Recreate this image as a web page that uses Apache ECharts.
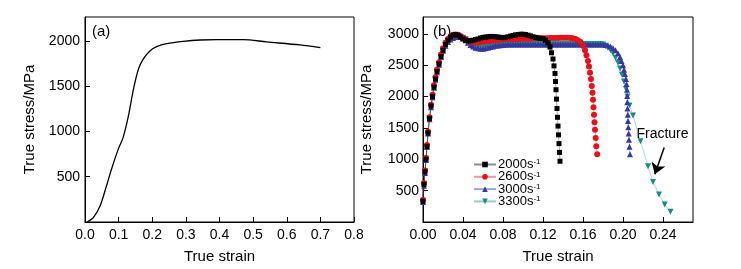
<!DOCTYPE html>
<html>
<head>
<meta charset="utf-8">
<script src="https://cdn.jsdelivr.net/npm/echarts@6/dist/echarts.min.js"></script>
<style>
  html, body { margin: 0; padding: 0; background: #fff; }
  #chart { width: 741px; height: 269px; }
</style>
</head>
<body>
<div id="chart"></div>
<script>
// (a) quasi-static curve: [strain, stress]
var curveA = [[0.007,0],[0.025,50],[0.045,180],[0.064,400],[0.079,585],[0.099,805],[0.113,930],
  [0.129,1170],[0.144,1465],[0.159,1690],[0.173,1800],[0.193,1890],[0.213,1938],[0.243,1971],
  [0.292,1996],[0.342,2011],[0.392,2015],[0.471,2015],[0.54,1990],[0.64,1956],[0.70,1926]];

// (b) dynamic curves
var s2000 = [[0,330],[0.001,600],[0.002,800],[0.003,1000],[0.004,1200],[0.005,1420],[0.0065,1650],[0.008,1850],
  [0.0095,2000],[0.011,2150],[0.0125,2280],[0.014,2400],[0.016,2520],[0.018,2640],[0.02,2740],[0.0225,2830],
  [0.025,2900],[0.0275,2950],[0.03,2980],[0.0325,2990],[0.035,2980],[0.0375,2950],[0.04,2920],[0.0425,2900],
  [0.045,2890],[0.0475,2890],[0.05,2900],[0.0525,2910],[0.055,2920],[0.0575,2935],[0.06,2945],[0.0625,2950],
  [0.065,2955],[0.0675,2960],[0.07,2960],[0.0725,2955],[0.075,2950],[0.0775,2945],[0.08,2940],[0.0825,2945],
  [0.085,2955],[0.0875,2965],[0.09,2975],[0.0925,2985],[0.095,2990],[0.0975,2995],[0.1,2995],[0.1025,2990],
  [0.105,2980],[0.1075,2970],[0.11,2955],[0.1125,2945],[0.115,2935],[0.1175,2930],[0.12,2925],[0.1225,2900],
  [0.125,2860],[0.127,2790],[0.1285,2700],[0.13,2600],[0.131,2490],[0.132,2370],[0.1325,2240],[0.133,2110],
  [0.1335,1960],[0.134,1810],[0.1345,1670],[0.135,1530],[0.1355,1390],[0.136,1250],[0.1365,1110],[0.137,970]];

var s2600 = [[0,350],[0.001,620],[0.002,820],[0.003,1020],[0.004,1230],[0.005,1440],[0.0065,1670],[0.008,1870],
  [0.0095,2030],[0.011,2180],[0.0125,2310],[0.014,2430],[0.016,2550],[0.018,2670],[0.02,2770],[0.0225,2860],
  [0.025,2920],[0.0275,2960],[0.03,2985],[0.0325,2990],[0.035,2985],[0.0375,2965],[0.04,2940],[0.0425,2915],
  [0.045,2895],[0.0475,2880],[0.05,2870],[0.0525,2865],[0.055,2865],[0.0575,2870],[0.06,2875],[0.0625,2880],
  [0.065,2885],[0.0675,2890],[0.07,2895],[0.0725,2900],[0.075,2905],[0.0775,2910],[0.08,2910],[0.0825,2915],
  [0.085,2915],[0.0875,2920],[0.09,2920],[0.0925,2920],[0.095,2920],[0.0975,2925],[0.1,2925],[0.1025,2925],
  [0.105,2925],[0.1075,2925],[0.11,2925],[0.1125,2930],[0.115,2930],[0.1175,2930],[0.12,2930],[0.1225,2930],
  [0.125,2930],[0.1275,2935],[0.13,2935],[0.1325,2935],[0.135,2935],[0.1375,2940],[0.14,2940],[0.1425,2940],
  [0.145,2940],[0.1475,2935],[0.15,2930],[0.1525,2920],[0.155,2900],[0.1575,2870],[0.16,2810],[0.162,2740],
  [0.1635,2660],[0.165,2570],[0.166,2480],[0.167,2380],[0.168,2280],[0.1688,2170],[0.1695,2060],[0.17,1950],
  [0.1705,1830],[0.171,1710],[0.1715,1590],[0.172,1470],[0.1727,1340],[0.1733,1210],[0.1742,1080]];

var s3000 = [[0,320],[0.001,580],[0.002,780],[0.003,990],[0.004,1200],[0.005,1410],[0.0065,1640],[0.008,1830],
  [0.0095,1990],[0.011,2140],[0.0125,2270],[0.014,2390],[0.016,2510],[0.018,2630],[0.02,2730],[0.0225,2810],
  [0.025,2870],[0.0275,2910],[0.03,2935],[0.0325,2950],[0.035,2955],[0.0375,2950],[0.04,2930],[0.0425,2900],
  [0.045,2860],[0.0475,2825],[0.05,2800],[0.0525,2780],[0.055,2770],[0.0575,2765],[0.06,2765],[0.0625,2770],
  [0.065,2780],[0.0675,2790],[0.07,2800],[0.0725,2810],[0.075,2815],[0.0775,2820],[0.08,2825],[0.0825,2828],
  [0.085,2830],[0.0875,2830],[0.09,2830],[0.0925,2830],[0.095,2830],[0.0975,2830],[0.1,2830],[0.1025,2830],
  [0.105,2830],[0.1075,2830],[0.11,2830],[0.1125,2830],[0.115,2830],[0.1175,2830],[0.12,2830],[0.1225,2830],
  [0.125,2830],[0.1275,2830],[0.13,2830],[0.1325,2830],[0.135,2830],[0.1375,2830],[0.14,2830],[0.1425,2830],
  [0.145,2830],[0.1475,2830],[0.15,2830],[0.1525,2830],[0.155,2830],[0.1575,2830],[0.16,2830],[0.1625,2830],
  [0.165,2830],[0.1675,2830],[0.17,2830],[0.1725,2830],[0.175,2830],[0.1775,2830],[0.18,2830],[0.1825,2825],
  [0.185,2815],[0.1875,2800],[0.19,2775],[0.1925,2740],[0.195,2690],[0.197,2630],[0.1985,2570],[0.2,2500],
  [0.201,2430],[0.202,2360],[0.203,2280],[0.2035,2200],[0.204,2110],[0.2042,2010],[0.2043,1910],[0.2045,1810],
  [0.2048,1710],[0.205,1610],[0.2053,1510],[0.2057,1410],[0.206,1310],[0.2065,1200],[0.207,1080]];

var s3300 = [[0,340],[0.001,610],[0.002,810],[0.003,1010],[0.004,1210],[0.005,1420],[0.0065,1650],[0.008,1840],
  [0.0095,2000],[0.011,2150],[0.0125,2280],[0.014,2400],[0.016,2520],[0.018,2640],[0.02,2740],[0.0225,2820],
  [0.025,2880],[0.0275,2915],[0.03,2935],[0.0325,2945],[0.035,2950],[0.0375,2950],[0.04,2940],[0.0425,2915],
  [0.045,2885],[0.0475,2855],[0.05,2830],[0.0525,2810],[0.055,2800],[0.0575,2795],[0.06,2795],[0.0625,2800],
  [0.065,2805],[0.0675,2810],[0.07,2815],[0.0725,2820],[0.075,2825],[0.0775,2830],[0.08,2832],[0.0825,2835],
  [0.085,2835],[0.0875,2835],[0.09,2835],[0.0925,2835],[0.095,2835],[0.0975,2835],[0.1,2835],[0.1025,2835],
  [0.105,2835],[0.1075,2835],[0.11,2835],[0.1125,2835],[0.115,2835],[0.1175,2835],[0.12,2835],[0.1225,2835],
  [0.125,2835],[0.1275,2835],[0.13,2835],[0.1325,2835],[0.135,2835],[0.1375,2835],[0.14,2835],[0.1425,2835],
  [0.145,2835],[0.1475,2835],[0.15,2835],[0.1525,2835],[0.155,2835],[0.1575,2835],[0.16,2835],[0.1625,2835],
  [0.165,2835],[0.1675,2835],[0.17,2835],[0.1725,2835],[0.175,2835],[0.1775,2835],[0.18,2830],[0.1825,2810],
  [0.185,2780],[0.1875,2740],[0.19,2690],[0.1925,2620],[0.195,2540],[0.197,2450],[0.199,2350],[0.201,2240],
  [0.203,2120],[0.2045,2000],[0.2065,1860],[0.21,1700],[0.2175,1290],[0.225,890],[0.23,640],[0.236,440],
  [0.2417,280],[0.2475,165]];

var rateNames = ['2000', '2600', '3000', '3300'];
var rateColors = ['#000000', '#e3121b', '#35399b', '#1d8a8a'];
var rateSymbols = ['rect', 'circle', 'triangle', 'triangle'];
var rateData = [s2000, s2600, s3000, s3300];

var font = 'Liberation Sans, Arial, sans-serif';
var myChart = echarts.init(document.getElementById('chart'));

function plain(v) { return String(v); }

function axisCommon() {
  return {
    axisLine: { show: true, onZero: false, lineStyle: { color: '#000', width: 1 } },
    axisTick: { show: true, inside: true, length: 5, lineStyle: { color: '#000' } },
    splitLine: { show: false },
    axisLabel: { color: '#000', fontSize: 14, fontFamily: font, margin: 6, formatter: plain },
    nameTextStyle: { color: '#000', fontSize: 15, fontFamily: font }
  };
}

var xA = Object.assign(axisCommon(), {
  gridIndex: 0, type: 'value', min: 0, max: 0.8, interval: 0.1,
  name: 'True strain', nameLocation: 'middle', nameGap: 27
});
xA.axisLabel.formatter = function (v) { return v.toFixed(1); };

var yA = Object.assign(axisCommon(), {
  gridIndex: 0, type: 'value', min: 0, max: 2265, interval: 500,
  name: 'True stress/MPa', nameLocation: 'middle', nameGap: 48
});
yA.axisLabel.showMinLabel = false;
yA.axisLabel.showMaxLabel = false;
yA.axisLabel.margin = 5;

var xB = Object.assign(axisCommon(), {
  gridIndex: 1, type: 'value', min: 0, max: 0.27, interval: 0.04,
  name: 'True strain', nameLocation: 'middle', nameGap: 27
});
xB.axisLabel.showMaxLabel = false;
xB.axisLabel.formatter = function (v) { return v.toFixed(2); };

var yB = Object.assign(axisCommon(), {
  gridIndex: 1, type: 'value', min: 0, max: 3270, interval: 500,
  name: 'True stress/MPa', nameLocation: 'middle', nameGap: 49
});
yB.axisLabel.showMinLabel = false;
yB.axisLabel.showMaxLabel = false;
yB.axisLabel.margin = 4;

var series = [{
  type: 'line', xAxisIndex: 0, yAxisIndex: 0, data: curveA, smooth: 0.3,
  showSymbol: false, lineStyle: { color: '#000', width: 1.3 }
}];

rateNames.forEach(function (n, i) {
  series.push({
    name: n, type: 'line', xAxisIndex: 1, yAxisIndex: 1, data: rateData[i],
    symbol: rateSymbols[i], symbolRotate: i === 3 ? 180 : 0, symbolSize: i === 0 ? 5 : 6,
    showAllSymbol: true,
    itemStyle: { color: rateColors[i] },
    lineStyle: { color: rateColors[i], width: 0.8, opacity: 0.45 },
    z: 10 - i
  });
});

// "Fracture" annotation on the 3300 curve
series[4].markLine = {
  silent: true, symbol: ['none', 'arrow'], symbolSize: 11,
  lineStyle: { color: '#000', width: 1.5, type: 'solid', opacity: 1 },
  label: { show: false },
  data: [[{ coord: [0.2412, 1190] }, { coord: [0.2318, 760] }]]
};
series[4].markPoint = {
  silent: true, symbol: 'circle', symbolSize: 0,
  label: { show: true, formatter: 'Fracture', color: '#000', fontSize: 14, fontFamily: font, position: 'inside' },
  data: [{ coord: [0.2395, 1395] }]
};

var option = {
  backgroundColor: '#fff',
  animation: false,
  title: [
    { text: '(a)', left: 87, top: 19, textStyle: { fontSize: 15, fontWeight: 'normal', color: '#000', fontFamily: font } },
    { text: '(b)', left: 428, top: 19, textStyle: { fontSize: 15, fontWeight: 'normal', color: '#000', fontFamily: font } }
  ],
  grid: [
    { left: 85, top: 17, width: 269, height: 206, show: true, borderColor: '#000', borderWidth: 1 },
    { left: 423, top: 17, width: 270, height: 206, show: true, borderColor: '#000', borderWidth: 1 }
  ],
  legend: {
    orient: 'vertical', left: 473, top: 158, itemWidth: 22, itemHeight: 7, itemGap: -0.7,
    padding: 0,
    data: rateNames,
    formatter: function (n) { return '{a|' + n + 's}{b|-1}'; },
    textStyle: {
      color: '#000', fontFamily: font, padding: [0, 0, 0, -3], lineHeight: 13,
      rich: {
        a: { fontSize: 13, fontFamily: font, color: '#000', lineHeight: 13 },
        b: { fontSize: 8, fontFamily: font, color: '#000', lineHeight: 13, padding: [0, 0, 5, 0] }
      }
    }
  },
  xAxis: [xA, xB],
  yAxis: [yA, yB],
  series: series
};
myChart.setOption(option, true);
</script>
</body>
</html>
